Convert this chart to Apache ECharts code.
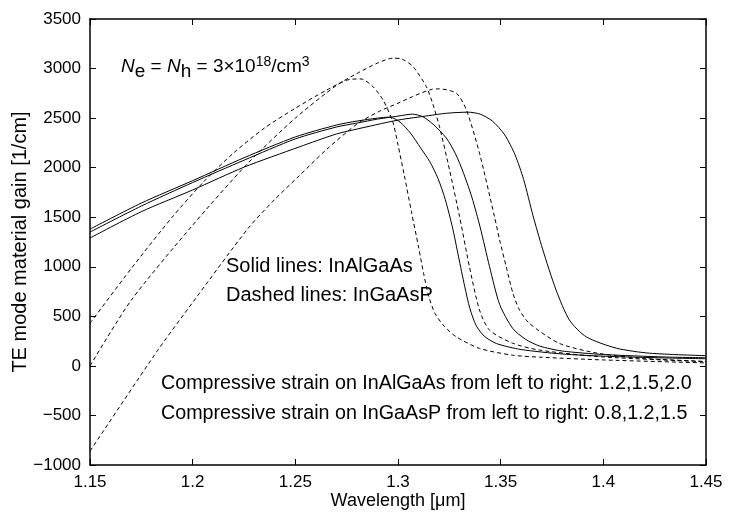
<!DOCTYPE html>
<html><head><meta charset="utf-8">
<script src="https://cdn.jsdelivr.net/npm/echarts@6/dist/echarts.min.js"></script>
<style>html,body{margin:0;padding:0;background:#fff}#c{width:730px;height:513px}</style>
</head><body><div id="c"></div>
<script>
// Wavelength [um] vs TE mode material gain [1/cm]
const xTicks = {min: 1.15, max: 1.45, interval: 0.05};
const yTicks = {min: -1000, max: 3500, interval: 500};

// InAlGaAs (solid), compressive strain 1.2, 1.5, 2.0
const inalgaas_12 = [[1.15,1380],[1.175,1643],[1.2,1869],[1.225,2100],[1.25,2310],[1.27,2430],[1.28,2470],[1.29,2500],[1.296,2510],[1.301,2460],[1.306,2350],[1.311,2200],[1.3155,2060],[1.3195,1890],[1.323,1680],[1.3265,1400],[1.3295,1100],[1.3325,800],[1.335,580],[1.338,410],[1.342,300],[1.348,225],[1.36,165],[1.38,120],[1.4,98],[1.43,80],[1.45,72]];
const inalgaas_15 = [[1.15,1350],[1.175,1613],[1.2,1850],[1.225,2075],[1.25,2290],[1.27,2410],[1.28,2450],[1.29,2490],[1.3,2520],[1.307,2540],[1.312,2515],[1.317,2440],[1.3235,2300],[1.328,2140],[1.332,1940],[1.336,1700],[1.34,1400],[1.3446,1000],[1.3495,620],[1.3558,380],[1.362,270],[1.369,200],[1.38,150],[1.4,115],[1.43,90],[1.45,82]];
const inalgaas_20 = [[1.15,1290],[1.175,1556],[1.2,1775],[1.225,2005],[1.252,2210],[1.27,2340],[1.278,2380],[1.3,2480],[1.315,2525],[1.3236,2549],[1.334,2560],[1.34,2540],[1.346,2470],[1.352,2330],[1.357,2130],[1.3612,1880],[1.3657,1520],[1.3704,1180],[1.377,765],[1.3835,462],[1.3917,293],[1.4063,179],[1.4225,128],[1.45,103]];

// InGaAsP (dashed), compressive strain 0.8, 1.2, 1.5
const ingaasp_08 = [[1.15,430],[1.17,980],[1.19,1500],[1.205,1850],[1.22,2150],[1.235,2400],[1.25,2600],[1.265,2780],[1.2764,2890],[1.282,2895],[1.2878,2818],[1.2927,2684],[1.2975,2460],[1.3,2230],[1.303,1930],[1.3065,1560],[1.31,1200],[1.3125,930],[1.315,700],[1.318,530],[1.3225,400],[1.3284,293],[1.3397,176],[1.3558,108],[1.369,88],[1.4,60],[1.45,30]];
const ingaasp_12 = [[1.15,0],[1.17,660],[1.2,1420],[1.227,2047],[1.25,2500],[1.27,2830],[1.28,2950],[1.29,3055],[1.2975,3105],[1.302,3095],[1.3073,3020],[1.3138,2818],[1.317,2640],[1.3202,2414],[1.3251,1977],[1.33,1505],[1.3348,1000],[1.3397,563],[1.3446,360],[1.3558,229],[1.369,159],[1.4,90],[1.45,42]];
const ingaasp_15 = [[1.15,-860],[1.183,158],[1.2,640],[1.227,1388],[1.24,1680],[1.252,1920],[1.265,2180],[1.28,2440],[1.291,2570],[1.3,2650],[1.3071,2717],[1.3168,2792],[1.32,2795],[1.3284,2751],[1.3333,2583],[1.3397,2145],[1.347,1505],[1.3495,1270],[1.3527,1000],[1.356,731],[1.3592,563],[1.364,428],[1.3787,226],[1.398,125],[1.42,75],[1.45,45]];

const solidSets = [inalgaas_12, inalgaas_15, inalgaas_20];
const dashedSets = [ingaasp_08, ingaasp_12, ingaasp_15];

const FONT = "'Liberation Sans', Arial, sans-serif";
const chart = echarts.init(document.getElementById('c'));
const mkSeries = (d, dashed) => ({
  type: 'line', data: d, symbol: 'none', smooth: 0.25,
  lineStyle: {color: '#000', width: 1, type: dashed ? [4, 3] : 'solid'},
  silent: true, animation: false, z: 3
});
const minus = v => String(v).replace('-', '\u2212');
const axisCommon = {
  axisLine: {show: true, onZero: false, lineStyle: {color: '#000', width: 1.5}},
  axisTick: {show: true, inside: true, length: 6, lineStyle: {color: '#000', width: 1}},
  splitLine: {show: false}
};
chart.setOption({
  animation: false,
  grid: {left: 90, right: 24, top: 19, bottom: 48, containLabel: false, outerBoundsMode: 'none'},
  xAxis: [
    Object.assign({type: 'value', min: xTicks.min, max: xTicks.max, interval: xTicks.interval,
      name: 'Wavelength [\u03bcm]', nameLocation: 'middle', nameGap: 27, nameMoveOverlap: false,
      nameTextStyle: {fontFamily: FONT, fontSize: 18, color: '#000'},
      axisLabel: {fontFamily: FONT, fontSize: 17, color: '#000', margin: 9}}, axisCommon),
    Object.assign({type: 'value', position: 'top', min: xTicks.min, max: xTicks.max, interval: xTicks.interval,
      axisLabel: {show: false}}, axisCommon)
  ],
  yAxis: [
    Object.assign({type: 'value', min: yTicks.min, max: yTicks.max, interval: yTicks.interval,
      name: 'TE mode material gain [1/cm]', nameLocation: 'middle', nameGap: 60, nameRotate: 90, nameMoveOverlap: false,
      nameTextStyle: {fontFamily: FONT, fontSize: 20, color: '#000'},
      axisLabel: {fontFamily: FONT, fontSize: 17, color: '#000', margin: 9, formatter: minus}}, axisCommon),
    Object.assign({type: 'value', position: 'right', min: yTicks.min, max: yTicks.max, interval: yTicks.interval,
      axisLabel: {show: false}}, axisCommon)
  ],
  series: solidSets.map(d => mkSeries(d, false)).concat(dashedSets.map(d => mkSeries(d, true))),
  graphic: [
    {type: 'text', left: 121, top: 55, z: 10, style: {
      text: '{i|N}{s|e}{n| = }{i|N}{s|h}{n| = 3\u00d710}{p|18}{n|/cm}{p|3}',
      rich: {
        n: {fontFamily: FONT, fontSize: 19, fill: '#000'},
        i: {fontFamily: FONT, fontSize: 19, fontStyle: 'italic', fill: '#000'},
        s: {fontFamily: FONT, fontSize: 19, fill: '#000', padding: [10, 0, 0, 0]},
        p: {fontFamily: FONT, fontSize: 14, fill: '#000', padding: [0, 0, 10, 0]}
      }}},
    {type: 'text', left: 226, top: 256, z: 10, style: {text: 'Solid lines: InAlGaAs', font: '20px ' + FONT, fill: '#000'}},
    {type: 'text', left: 226, top: 285, z: 10, style: {text: 'Dashed lines: InGaAsP', font: '20px ' + FONT, fill: '#000'}},
    {type: 'text', left: 161, top: 374, z: 10, style: {text: 'Compressive strain on InAlGaAs from left to right: 1.2,1.5,2.0', font: '19.7px ' + FONT, fill: '#000'}},
    {type: 'text', left: 161, top: 404, z: 10, style: {text: 'Compressive strain on InGaAsP from left to right: 0.8,1.2,1.5', font: '19.7px ' + FONT, fill: '#000'}}
  ]
});
</script></body></html>
